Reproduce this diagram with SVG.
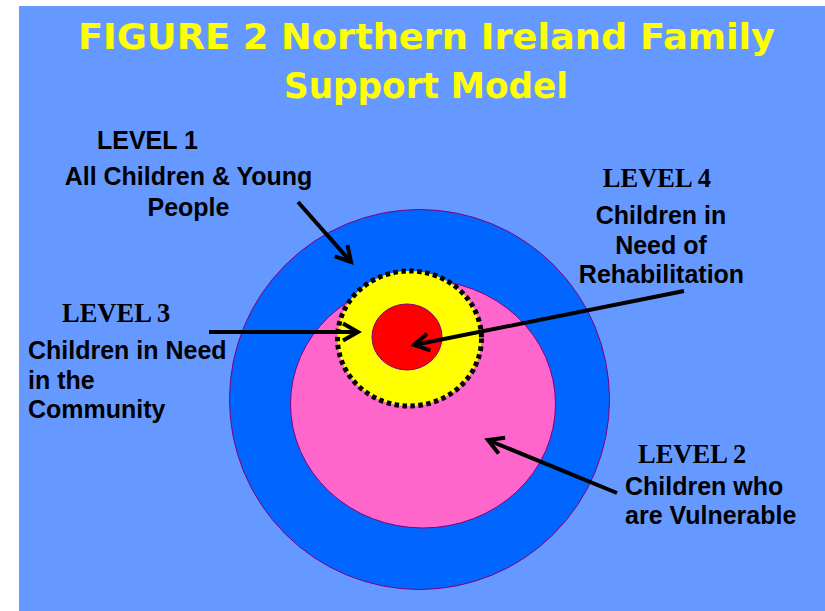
<svg xmlns="http://www.w3.org/2000/svg" width="825" height="611" viewBox="0 0 825 611">
  <style>
    .ring { stroke: #800080; stroke-width: 1; }
    .title { font-family: "DejaVu Sans", "Liberation Sans", sans-serif; font-weight: bold; font-size: 36px; fill: #FFFF00; text-anchor: middle; }
    .lbl { font-family: "Liberation Sans", Arial, sans-serif; font-weight: bold; font-size: 25px; fill: #000000; }
    .lvl { font-family: "Liberation Serif", "Times New Roman", serif; font-weight: bold; font-size: 26.5px; fill: #000000; }
    .mid { text-anchor: middle; }
    .conn { stroke: #000000; stroke-width: 4; fill: none; }
  </style>
  <defs>
    <marker id="arrow" markerUnits="userSpaceOnUse" viewBox="-22 -12 26 24" markerWidth="26" markerHeight="24" refX="0" refY="0" orient="auto">
      <path d="M -15 -8.5 L 0 0 L -15 8.5" fill="none" stroke="#000000" stroke-width="4" stroke-linejoin="miter"/>
    </marker>
  </defs>

  <rect x="0" y="0" width="825" height="611" fill="#FFFFFF"/>
  <rect id="panel" x="19" y="6" width="806" height="605" fill="#6699FF"/>

  <g id="title">
    <text class="title" x="426.5" y="49" textLength="697" lengthAdjust="spacingAndGlyphs">FIGURE 2 Northern Ireland Family</text>
    <text class="title" x="426" y="98" textLength="284" lengthAdjust="spacingAndGlyphs">Support Model</text>
  </g>

  <g id="level1-circle">
    <circle class="ring" cx="419.5" cy="399.5" r="190" fill="#0066FF"/>
  </g>
  <g id="level2-circle">
    <ellipse class="ring" cx="423" cy="404" rx="132.5" ry="124" fill="#FF66CC"/>
  </g>
  <g id="level3-circle">
    <ellipse cx="409.5" cy="338.5" rx="72" ry="67.5" fill="#FFFF00" stroke="#000000" stroke-width="5" stroke-dasharray="4.5 3.5"/>
  </g>
  <g id="level4-circle">
    <ellipse class="ring" cx="407" cy="337" rx="35" ry="33" fill="#FF0000"/>
  </g>

  <g id="connectors">
    <line class="conn" x1="298" y1="202" x2="351" y2="262" marker-end="url(#arrow)"/>
    <line class="conn" x1="209" y1="332" x2="358" y2="332" marker-end="url(#arrow)"/>
    <line class="conn" x1="684" y1="291" x2="414" y2="345" marker-end="url(#arrow)"/>
    <line class="conn" x1="617" y1="493" x2="488" y2="440" marker-end="url(#arrow)"/>
  </g>

  <g id="level1-label">
    <text class="lbl" x="97" y="149" font-size="21.5">LEVEL 1</text>
    <text class="lbl mid" x="188.5" y="185">All Children &amp; Young</text>
    <text class="lbl mid" x="188.5" y="216">People</text>
  </g>
  <g id="level4-label">
    <text class="lvl mid" x="657" y="187">LEVEL 4</text>
    <text class="lbl mid" x="661" y="224">Children in</text>
    <text class="lbl mid" x="661" y="254">Need of</text>
    <text class="lbl mid" x="661.5" y="283">Rehabilitation</text>
  </g>
  <g id="level3-label">
    <text class="lvl" x="62" y="322">LEVEL 3</text>
    <text class="lbl" x="28" y="359">Children in Need</text>
    <text class="lbl" x="28" y="389">in the</text>
    <text class="lbl" x="28" y="418">Community</text>
  </g>
  <g id="level2-label">
    <text class="lvl" x="638" y="463">LEVEL 2</text>
    <text class="lbl" x="625" y="495">Children who</text>
    <text class="lbl" x="625" y="524">are Vulnerable</text>
  </g>
</svg>
